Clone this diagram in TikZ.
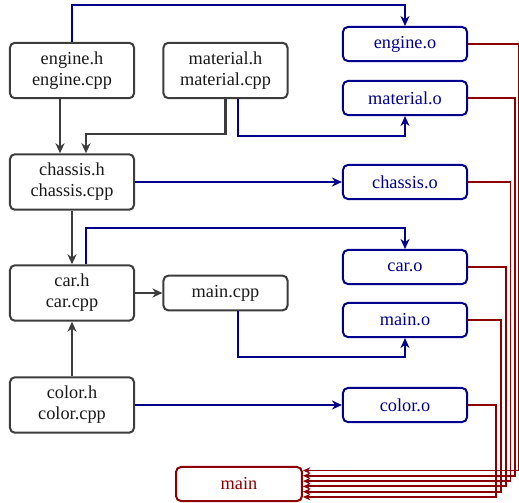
\documentclass[tikz,border=0pt]{standalone}
\usepackage{fontspec}
\setmainfont{Liberation Serif}
\usetikzlibrary{arrows.meta,calc}
\definecolor{cgray}{RGB}{60,60,60}
\definecolor{cblue}{RGB}{0,0,140}
\definecolor{cred}{RGB}{140,0,0}
\begin{document}
\begin{tikzpicture}[x=0.5464pt,y=-0.5464pt,
 every node/.style={font=\fontsize{10}{11.5}\selectfont},
 src/.style={draw=cgray, line width=1.1pt, rounded corners=2.7pt, align=center, minimum width=67.8pt, minimum height=30.3pt, inner sep=0pt, text=black!90},
 srcone/.style={src, minimum height=19pt},
 obj/.style={draw=cblue, text=cblue, line width=1.1pt, rounded corners=2.7pt, minimum width=67.8pt, minimum height=18.6pt, inner sep=0pt},
 exe/.style={draw=cred, text=cred, line width=1.1pt, rounded corners=2.7pt, minimum width=68.8pt, minimum height=18.6pt, inner sep=0pt},
 dep/.style={draw=cgray, line width=1.1pt, -{Stealth[length=5.5pt,width=5pt]}},
 cmp/.style={draw=cblue, line width=1pt, -{Stealth[length=5.5pt,width=5pt]}},
 lnk/.style={draw=cred, line width=1pt, -{Stealth[length=4pt,width=3.6pt]}},
]
\useasboundingbox (0,0) rectangle (519,502);
% sources
\node[src] (eng) at (72,70.5) {engine.h\\engine.cpp};
\node[src] (mat) at (225.5,70.5) {material.h\\material.cpp};
\node[src] (cha) at (72,182) {chassis.h\\chassis.cpp};
\node[src] (car) at (72,293) {car.h\\car.cpp};
\node[srcone] (mcpp) at (225.5,293) {main.cpp};
\node[src] (col) at (72,405) {color.h\\color.cpp};
% objects
\node[obj] (engo) at (405,44) {engine.o};
\node[obj] (mato) at (405,98) {material.o};
\node[obj] (chao) at (405,182) {chassis.o};
\node[obj] (caro) at (405,267) {car.o};
\node[obj] (maino) at (405,320) {main.o};
\node[obj] (colo) at (405,405) {color.o};
% executable
\node[exe] (main) at (239,484) {main};
% dependencies
\draw[dep] ($(eng.south)+(-12,0)$) -- ($(cha.north)+(-12,0)$);
\draw[dep] (mat.south) -- ++(0,35) -| ($(cha.north)+(14,0)$);
\draw[dep] (cha) -- (car);
\draw[dep] (car) -- (mcpp);
\draw[dep] (col) -- (car);
% compilation
\draw[cmp] (eng.north) -- ++(0,-37) -| (engo.north);
\draw[cmp] ($(mat.south)+(12.5,0)$) -- ++(0,37) -| (mato.south);
\draw[cmp] (cha) -- (chao);
\draw[cmp] ($(car.north)+(14,0)$) -- ++(0,-36) -| (caro.north);
\draw[cmp] ($(mcpp.south)+(12.5,0)$) -- ++(0,46) -| (maino.south);
\draw[cmp] (col) -- (colo);
% linking
\draw[lnk] (engo.east) -| ($(main.east)+(216,-13.5)$) -- ($(main.east)+(0,-13.5)$);
\draw[lnk] (mato.east) -| ($(main.east)+(212,-8.2)$) -- ($(main.east)+(0,-8.2)$);
\draw[lnk] (chao.east) -| ($(main.east)+(207.5,-2.9)$) -- ($(main.east)+(0,-2.9)$);
\draw[lnk] (caro.east) -| ($(main.east)+(203,2.4)$) -- ($(main.east)+(0,2.4)$);
\draw[lnk] (maino.east) -| ($(main.east)+(198,7.7)$) -- ($(main.east)+(0,7.7)$);
\draw[lnk] (colo.east) -| ($(main.east)+(193,13)$) -- ($(main.east)+(0,13)$);
\end{tikzpicture}
\end{document}
